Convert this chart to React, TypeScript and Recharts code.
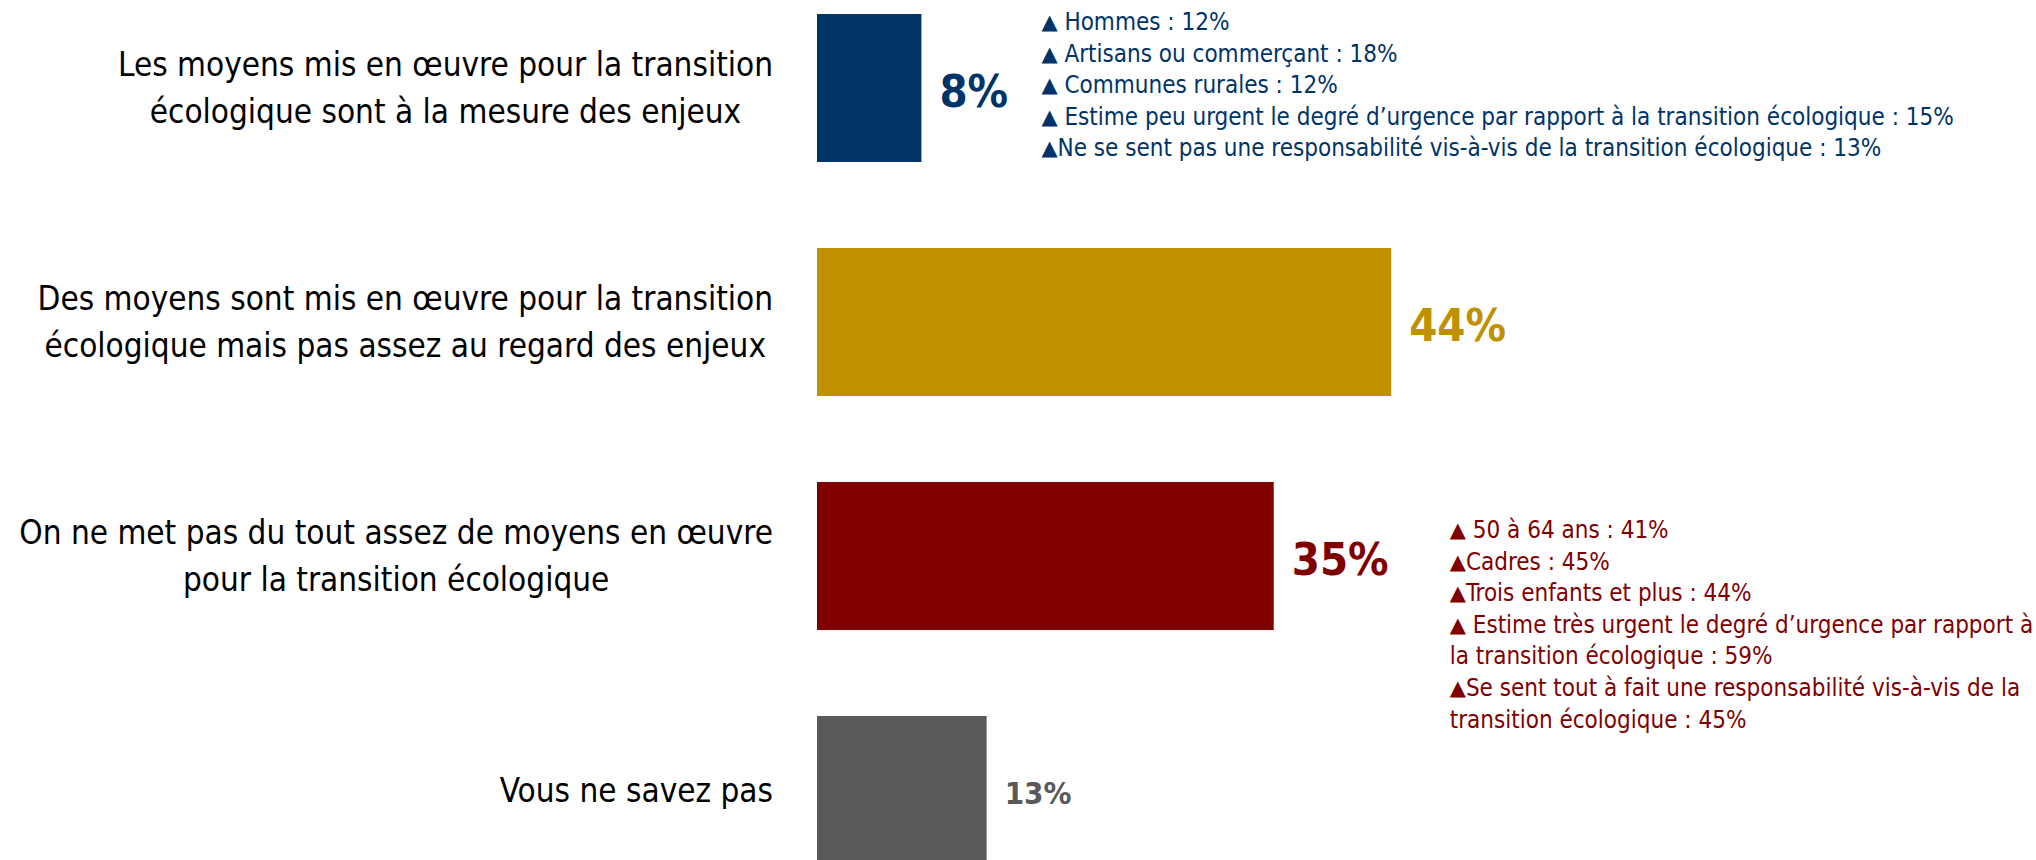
import React from "react";
import { BarChart, Bar, XAxis, YAxis, Cell, LabelList } from "recharts";

// survey answers, one bar each
const categories = [
  "Les moyens mis en œuvre pour la transition\nécologique sont à la mesure des enjeux",
  "Des moyens sont mis en œuvre pour la transition\nécologique mais pas assez au regard des enjeux",
  "On ne met pas du tout assez de moyens en œuvre\npour la transition écologique",
  "Vous ne savez pas",
];
const values = [8, 44, 35, 13];
const barColors = ["#003366", "#BF9000", "#800000", "#595959"];

// sub-group call-outs (lines without ▲ continue the previous item)
const notesFirst = [
  "▲ Hommes : 12%",
  "▲ Artisans ou commerçant : 18%",
  "▲ Communes rurales : 12%",
  "▲ Estime peu urgent le degré d’urgence par rapport à la transition écologique : 15%",
  "▲Ne se sent pas une responsabilité vis-à-vis de la transition écologique : 13%",
];
const notesThird = [
  "▲ 50 à 64 ans : 41%",
  "▲Cadres : 45%",
  "▲Trois enfants et plus : 44%",
  "▲ Estime très urgent le degré d’urgence par rapport à",
  "la transition écologique : 59%",
  "▲Se sent tout à fait une responsabilité vis-à-vis de la",
  "transition écologique : 45%",
];
const notesByBar: string[][] = [notesFirst, [], notesThird, []];

const FONT = "'DejaVu Sans Condensed', 'DejaVu Sans', sans-serif";
const LABEL_SIZE = 33;
const LABEL_RIGHT = 773;

const data = categories.map((name, i) => ({ name, value: values[i] }));

let ctx: CanvasRenderingContext2D | null = null;
const measure = (txt: string, size: number) => {
  if (!ctx) ctx = document.createElement("canvas").getContext("2d");
  if (!ctx) return txt.length * size * 0.45;
  ctx.font = `${size}px ${FONT}`;
  return ctx.measureText(txt).width;
};

const CategoryTick = (props: any) => {
  const { y, payload } = props;
  const lines: string[] = String(payload.value).split("\n");
  const maxW = Math.max(...lines.map((l) => measure(l, LABEL_SIZE)));
  const cx = LABEL_RIGHT - maxW / 2;
  const lh = 47;
  const y0 = y - ((lines.length - 1) * lh) / 2;
  return (
    <g>
      {lines.map((l, i) => (
        <text
          key={i}
          x={cx}
          y={y0 + i * lh}
          textAnchor="middle"
          dominantBaseline="central"
          fontFamily={FONT}
          fontSize={LABEL_SIZE}
          fill="#000"
        >
          {l}
        </text>
      ))}
    </g>
  );
};

// where each bar's call-out block sits, relative to the bar
const noteOffsets = [
  { dx: 120, dy: 8 },
  { dx: 0, dy: 0 },
  { dx: 176, dy: 48 },
  { dx: 0, dy: 0 },
];

const renderLabel = (props: any) => {
  const { x, y, width, height, value, index } = props;
  const end = x + width;
  const big = index !== 3;
  const notes = notesByBar[index] || [];
  const off = noteOffsets[index];
  return (
    <g>
      <text
        x={end + 18}
        y={y + height / 2 + 3}
        dominantBaseline="central"
        fontFamily={FONT}
        fontWeight="bold"
        fontSize={big ? 45 : 31}
        fill={barColors[index]}
      >
        {value}%
      </text>
      {notes.map((n, i) => {
        const tri = n.startsWith("▲");
        const rest = tri ? n.slice(1) : n;
        return (
          <text
            key={i}
            x={end + off.dx}
            y={y + off.dy + i * 31.6}
            dominantBaseline="central"
            fontFamily={FONT}
            fontSize={24}
            fill={barColors[index]}
            style={{ whiteSpace: "pre" }}
          >
            {tri ? (
              <tspan fontSize={21} fontFamily="DejaVu Sans">
                ▲
              </tspan>
            ) : (
              <tspan dx={19}></tspan>
            )}
            <tspan>{rest}</tspan>
          </text>
        );
      })}
    </g>
  );
};

export default function App() {
  return (
    <div
      style={{
        position: "fixed",
        left: 0,
        top: 0,
        width: 2036,
        height: 860,
        overflow: "hidden",
        background: "#fff",
      }}
    >
      <div style={{ position: "absolute", left: 0, top: -29 }}>
        <BarChart
          layout="vertical"
          width={2122}
          height={936}
          data={data}
          margin={{ top: 0, right: 0, bottom: 0, left: 0 }}
          barCategoryGap={43}
        >
          <XAxis type="number" domain={[0, 100]} hide />
          <YAxis
            type="category"
            dataKey="name"
            width={817}
            axisLine={false}
            tickLine={false}
            interval={0}
            tick={<CategoryTick />}
          />
          <Bar dataKey="value" isAnimationActive={false}>
            {data.map((d, i) => (
              <Cell key={d.name} fill={barColors[i]} />
            ))}
            <LabelList dataKey="value" content={renderLabel} />
          </Bar>
        </BarChart>
      </div>
    </div>
  );
}
